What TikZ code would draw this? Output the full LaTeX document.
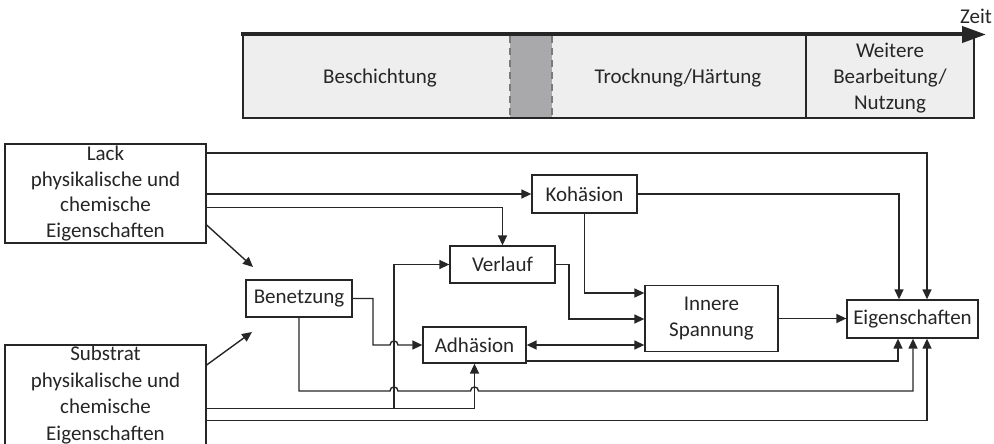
\documentclass[tikz,border=0pt]{standalone}
\usepackage{fontspec}
\setmainfont{Carlito}
\usetikzlibrary{arrows.meta,calc}
\definecolor{ink}{HTML}{262626}
\definecolor{tlfill}{HTML}{EEEEEE}
\definecolor{bandfill}{HTML}{A9A9AB}
\definecolor{dashgray}{HTML}{7A7A7A}
\begin{document}
\begin{tikzpicture}[x=1pt,y=-1pt,
  every node/.style={font=\fontsize{21}{26}\selectfont, text=ink},
  box/.style={draw=ink, line width=1.3pt, inner sep=0pt, align=center, fill=white},
  conn/.style={draw=ink, line width=1.4pt},
  arr/.style={conn, -{Triangle[length=10pt,width=9pt]}},
  darr/.style={conn, {Triangle[length=10pt,width=9pt]}-{Triangle[length=10pt,width=9pt]}},
  bandline/.style={draw=dashgray, line width=1.2pt, dash pattern=on 7pt off 5pt},
  tlline/.style={draw=ink, line width=1.3pt},
  timearrow/.style={draw=ink, line width=4pt, -{Triangle[length=24pt,width=16pt]}}
]
\useasboundingbox (0,0) rectangle (994,444);

% ---- timeline ----
\fill[tlfill] (243,36) rectangle (974,118);
\fill[bandfill] (510,36) rectangle (552,118);
\draw[bandline] (510,36) -- (510,118);
\draw[bandline] (552,36) -- (552,118);
\draw[tlline] (243,35) -- (243,118) -- (974,118) -- (974,35);
\draw[tlline] (806,36) -- (806,118);
\coordinate (tstart) at (241,34.5);
\coordinate (tend) at (986,34.5);
\draw[timearrow] (tstart) -- (tend);
\node (zeit) at (976,16) {Zeit};
\node (besch) at (380,78) {Beschichtung};
\node (trock) at (678,78) {Trocknung/Härtung};
\node[align=center] (weit) at (890,78) {Weitere\\Bearbeitung/\\Nutzung};

% ---- nodes ----
\node[box, minimum width=201pt, minimum height=99pt, font=\fontsize{21}{25.5}\selectfont] (lack) at (105.5,193.5)
  {Lack\\physikalische und\\chemische\\Eigenschaften};
\node[box, minimum width=201pt, minimum height=100pt, font=\fontsize{21}{26.5}\selectfont] (sub) at (105.5,395)
  {Substrat\\physikalische und\\chemische\\Eigenschaften};
\node[box, minimum width=105pt, minimum height=38pt] (koh) at (584.5,194) {Kohäsion};
\node[box, minimum width=105pt, minimum height=37pt] (verl) at (502.5,264.5) {Verlauf};
\node[box, minimum width=106pt, minimum height=37pt] (ben) at (299,298.5) {Benetzung};
\node[box, minimum width=103pt, minimum height=36pt] (adh) at (474.5,345) {Adhäsion};
\node[box, minimum width=133pt, minimum height=66pt] (inn) at (711.5,318.5) {Innere\\Spannung};
\node[box, minimum width=131pt, minimum height=38pt] (eig) at (912.5,319) {Eigenschaften};

\coordinate (benin) at (253,267);
\coordinate (subin) at (252,332);

% ---- connectors ----
% Lack -> Eigenschaften
\draw[arr] (lack.east |- 0,153) -- (927,153) -- (eig.north -| 927,0);
% Lack -> Kohaesion
\draw[arr] (lack.east |- koh.west) -- (koh.west);
% Lack -> Verlauf
\draw[arr] (lack.east |- 0,207.5) -| (verl.north);
% Lack -> (Benetzung)
\draw[arr] (lack.east |- 0,225) -- (benin);
% Substrat -> (Benetzung)
\draw[arr] (sub.east |- 0,365) -- (subin);
% Benetzung -> Adhaesion (hop at x=394)
\draw[arr] (ben.east) -- (373,298.5) -- (373,345) -- (390,345)
  .. controls (390,339.7) and (398,339.7) .. (398,345) -- (adh.west);
% Benetzung -> Eigenschaften (hops at 394 and 474.5)
\draw[arr] (ben.south) -- (299,391) -- (390,391)
  .. controls (390,385.7) and (398,385.7) .. (398,391) -- (470.5,391)
  .. controls (470.5,385.7) and (478.5,385.7) .. (478.5,391) -- (913,391) -- (eig.south -| 913,0);
% Verlauf -> Innere Spannung
\draw[arr] (verl.east) -- (569,264.5) -- (569,319) -- (inn.west |- 0,319);
% Kohaesion -> Innere Spannung
\draw[arr] (koh.south) -- (584.5,293) -- (inn.west |- 0,293);
% Kohaesion -> Eigenschaften
\draw[arr] (koh.east) -- (899,194) -- (eig.north -| 899,0);
% Adhaesion <-> Innere Spannung
\draw[darr] (adh.east) -- (inn.west |- adh.east);
% Innere Spannung -> Eigenschaften
\draw[arr] (inn.east) -- (eig.west |- inn.east);
% Adhaesion -> Eigenschaften
\draw[arr] (adh.east |- 0,361) -- (898,361) -- (eig.south -| 898,0);
% Substrat -> Adhaesion
\draw[arr] (sub.east |- 0,408.5) -- (474.5,408.5) -- (adh.south);
% Substrat -> Verlauf
\draw[arr] (394,408.5) -- (394,264.5) -- (verl.west);
% Substrat -> Eigenschaften
\draw[arr] (sub.east |- 0,420.5) -- (927,420.5) -- (eig.south -| 927,0);
\end{tikzpicture}
\end{document}
